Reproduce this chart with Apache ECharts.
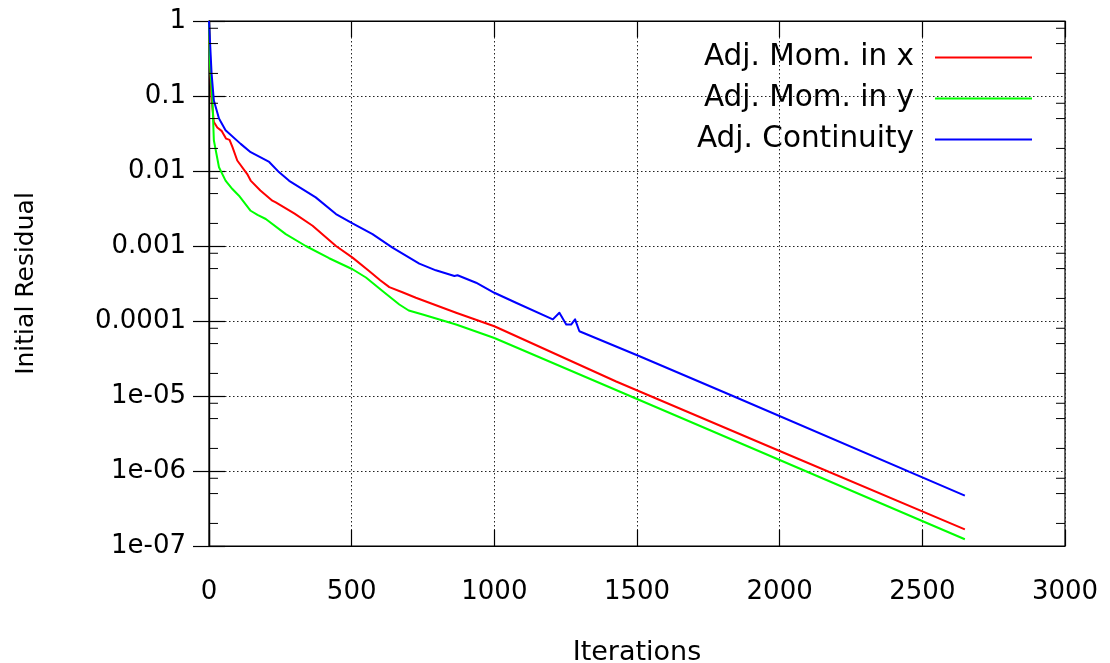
<!DOCTYPE html>
<html>
<head>
<meta charset="utf-8">
<title>Adjoint residuals</title>
<script src="https://cdn.jsdelivr.net/npm/echarts@6/dist/echarts.min.js"></script>
<style>
  html, body { margin: 0; padding: 0; background: #ffffff; }
  #chart { width: 1110px; height: 663px; }
</style>
</head>
<body>
<div id="chart"></div>
<script>
// Residual history of the adjoint solver (iteration, initial residual)
const seriesNames = ['Adj. Mom. in x', 'Adj. Mom. in y', 'Adj. Continuity'];

const momXIter = [0, 8, 17, 29, 45, 60, 72, 82, 99, 134, 146, 180, 222, 234, 300, 363, 445, 503, 561, 600, 632, 680, 725, 866, 1000, 1427, 2000, 2649];
const momXRes  = [1, 0.1, 0.045, 0.038, 0.034, 0.027, 0.026, 0.021, 0.0138, 0.0091, 0.00745, 0.0055, 0.00402, 0.00381, 0.0027, 0.00186, 0.001, 0.0007, 0.000465, 0.00035, 0.000283, 0.00024, 0.000204, 0.000129, 0.0000851, 0.0000156, 0.00000185, 0.000000167];

const momYIter = [0, 4, 12, 17, 35, 58, 82, 105, 146, 170, 199, 269, 339, 421, 503, 550, 608, 667, 700, 749, 866, 1000, 1369, 2000, 2649];
const momYRes  = [1, 0.25, 0.087, 0.0257, 0.0112, 0.00745, 0.00575, 0.00468, 0.00295, 0.0026, 0.00229, 0.00144, 0.001, 0.000687, 0.00049, 0.00038, 0.000251, 0.000166, 0.000138, 0.000122, 0.0000897, 0.0000594, 0.0000149, 0.0000014, 0.000000123];

const contIter = [0, 9, 17, 35, 58, 111, 146, 211, 246, 281, 374, 445, 503, 573, 643, 737, 795, 860, 871, 936, 1000, 1076, 1205, 1228, 1252, 1269, 1283, 1298, 1509, 1836, 2649];
const contRes  = [1, 0.2, 0.087, 0.05, 0.035, 0.023, 0.0178, 0.0132, 0.0096, 0.0074, 0.00445, 0.00267, 0.002, 0.00144, 0.00095, 0.000582, 0.000474, 0.000398, 0.000407, 0.000324, 0.000238, 0.000175, 0.000105, 0.000129, 0.0000897, 0.0000897, 0.000105, 0.000073, 0.0000339, 0.00001, 0.00000047];

const seriesColors = ['#ff0000', '#00ff00', '#0000ff'];

// y tick labels, indexed by minus the decade exponent
const yTickLabels = ['1', '0.1', '0.01', '0.001', '0.0001', '1e-05', '1e-06', '1e-07'];
const xTicks = [0, 500, 1000, 1500, 2000, 2500, 3000];
// minor tick mantissas inside each decade
const minorMantissas = [2, 5, 8];

const FONT = 'DejaVu Sans';

function pairs(xs, ys) {
  return xs.map((x, i) => [x, ys[i]]);
}

function yLabel(v) {
  const e = Math.round(Math.log10(v));
  const s = yTickLabels[-e];
  return s === undefined ? '' : s;
}

// minor tick values for every decade of the y range
const minorTickValues = [];
for (let e = -7; e < 0; e++) {
  minorMantissas.forEach(m => minorTickValues.push(m * Math.pow(10, e)));
}

const chart = echarts.init(document.getElementById('chart'), null, { renderer: 'canvas' });

const baseX = {
  type: 'value',
  min: xTicks[0],
  max: xTicks[xTicks.length - 1],
  interval: 500
};
const baseY = {
  type: 'log',
  logBase: 10,
  min: 1e-7,
  max: 1,
  splitNumber: 7
};

const MINOR_LEN = 9;

const option = {
  backgroundColor: '#ffffff',
  animation: false,
  grid: {
    left: 209,
    right: 45,
    top: 21,
    bottom: 117,
    outerBoundsMode: 'none',
    containLabel: false,
    show: true,
    borderColor: '#000',
    borderWidth: 1.2
  },
  legend: {
    orient: 'vertical',
    align: 'right',
    right: 78,
    top: 42,
    padding: 0,
    itemGap: 10,
    itemWidth: 97,
    itemHeight: 2,
    icon: 'rect',
    textStyle: {
      fontFamily: FONT,
      fontSize: 29.5,
      color: '#000',
      lineHeight: 31,
      padding: [0, 16, 0, 0]
    },
    data: seriesNames
  },
  xAxis: [
    Object.assign({}, baseX, {
      position: 'bottom',
      name: 'Iterations',
      nameLocation: 'middle',
      nameGap: 93,
      nameTextStyle: { fontFamily: FONT, fontSize: 27, color: '#000' },
      axisLine: { show: true, lineStyle: { color: '#000', width: 1.2 } },
      axisTick: { show: true, inside: true, length: 16, lineStyle: { color: '#000', width: 1.2 } },
      axisLabel: { margin: 33, fontFamily: FONT, fontSize: 26, color: '#000', formatter: v => String(v) },
      splitLine: { show: true, lineStyle: { color: '#222', width: 1, type: [1.5, 2.5] } }
    }),
    Object.assign({}, baseX, {
      position: 'top',
      axisLine: { show: true, lineStyle: { color: '#000', width: 1.2 } },
      axisTick: { show: true, inside: true, length: 16, lineStyle: { color: '#000', width: 1.2 } },
      axisLabel: { show: false },
      splitLine: { show: false }
    })
  ],
  yAxis: [
    Object.assign({}, baseY, {
      position: 'left',
      name: 'Initial Residual',
      nameLocation: 'middle',
      nameRotate: 90,
      nameGap: 170,
      nameTextStyle: { fontFamily: FONT, fontSize: 25, color: '#000' },
      axisLine: { show: true, lineStyle: { color: '#000', width: 1.2 } },
      axisTick: { show: true, inside: true, length: 16, lineStyle: { color: '#000', width: 1.2 } },
      minorTick: { show: false },
      axisLabel: { margin: 23, fontFamily: FONT, fontSize: 26, color: '#000', formatter: yLabel },
      splitLine: { show: true, lineStyle: { color: '#222', width: 1, type: [1.5, 2.5] } }
    }),
    Object.assign({}, baseY, {
      position: 'right',
      axisLine: { show: true, lineStyle: { color: '#000', width: 1.2 } },
      axisTick: { show: true, inside: true, length: 16, lineStyle: { color: '#000', width: 1.2 } },
      minorTick: { show: false },
      axisLabel: { show: false },
      splitLine: { show: false }
    })
  ],
  series: [
    { name: seriesNames[0], data: pairs(momXIter, momXRes) },
    { name: seriesNames[1], data: pairs(momYIter, momYRes) },
    { name: seriesNames[2], data: pairs(contIter, contRes) }
  ].map((s, i) => Object.assign(s, {
    type: 'line',
    xAxisIndex: 0,
    yAxisIndex: 0,
    showSymbol: false,
    symbol: 'none',
    color: seriesColors[i],
    lineStyle: { color: seriesColors[i], width: 2, join: 'round' },
    z: 3 + i
  })).concat([{
    // short inward minor ticks on the left and right frame edges
    type: 'custom',
    name: 'minor ticks',
    xAxisIndex: 0,
    yAxisIndex: 0,
    silent: true,
    z: 10,
    data: minorTickValues.map(v => [0, v]),
    renderItem: function (params, api) {
      const v = api.value(1);
      const l = api.coord([xTicks[0], v]);
      const r = api.coord([xTicks[xTicks.length - 1], v]);
      const style = { stroke: '#000', lineWidth: 1 };
      return {
        type: 'group',
        children: [
          { type: 'line', shape: { x1: l[0], y1: l[1], x2: l[0] + MINOR_LEN, y2: l[1] }, style: style },
          { type: 'line', shape: { x1: r[0], y1: r[1], x2: r[0] - MINOR_LEN, y2: r[1] }, style: style }
        ]
      };
    }
  }])
};

chart.setOption(option);
</script>
</body>
</html>
